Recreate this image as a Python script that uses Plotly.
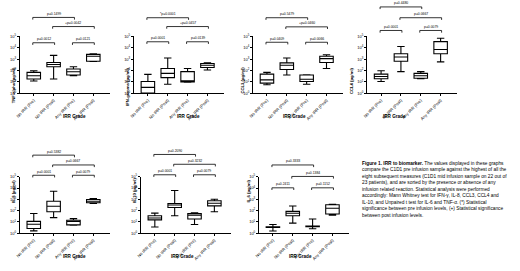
import plotly.graph_objects as go

# ---------------- data (pg/ml) ----------------
categories = ["No IRR (Pre)", "No IRR (Post)", "Any IRR (Pre)", "Any IRR (Post)"]
y_tick_vals = [1, 10, 100, 1000, 10000, 100000]
y_tick_text = ["10<sup>0</sup>", "10<sup>1</sup>", "10<sup>2</sup>", "10<sup>3</sup>", "10<sup>4</sup>", "10<sup>5</sup>"]

tnf_low = [12, 18, 35, 620]
tnf_q1 = [18, 214, 40, 660]
tnf_med = [35, 340, 79, 1780]
tnf_q3 = [69, 500, 135, 2630]
tnf_high = [95, 2140, 214, 2950]
tnf_p = ["p=0.1499", "+p=0.0042", "p=0.0012", "p=0.0121"]

ifn_low = [1.0, 6.3, 9.5, 110]
ifn_q1 = [1.07, 24, 10, 186]
ifn_med = [3.3, 56, 11.2, 295]
ifn_q3 = [11, 150, 80, 410]
ifn_high = [46, 1260, 150, 470]
ifn_p = ["*p=0.0001", "+p=0.0457", "p=0.0001", "p=0.0139"]

ccl3_low = [5.6, 41, 6.3, 150]
ccl3_q1 = [7.8, 123, 11, 500]
ccl3_med = [15, 295, 17, 1100]
ccl3_q3 = [48, 470, 41, 1780]
ccl3_high = [69, 1260, 43, 2450]
ccl3_p = ["p=0.5479", "+p=0.0460", "p=0.0409", "p=0.0066"]

ccl4_low = [11, 80, 19, 575]
ccl4_q1 = [19, 660, 21, 2950]
ccl4_med = [30, 1550, 35, 7080]
ccl4_q3 = [48, 2950, 56, 34700]
ccl4_high = [95, 12900, 80, 67600]
ccl4_p = ["p=0.4480", "p=0.0667", "p=0.0001", "p=0.0079"]

il8_low = [1.6, 24, 5.2, 425]
il8_q1 = [2.6, 80, 5.4, 490]
il8_med = [6.2, 245, 10.7, 680]
il8_q3 = [11, 680, 13.8, 955]
il8_high = [56, 5130, 19.5, 1175]
il8_p = ["p=0.5382", "p=0.0667", "p=0.0001", "p=0.0079"]

il10_low = [3.5, 35, 5.9, 80]
il10_q1 = [15, 190, 18, 263]
il10_med = [22, 316, 40, 447]
il10_q3 = [35, 425, 56, 740]
il10_high = [60, 6030, 63, 1000]
il10_p = ["p=0.2090", "p=0.3232", "p=0.0001", "p=0.0079"]

il6_low = [1.55, 7.8, 2.5, 40]
il6_q1 = [3.2, 35, 3.8, 50]
il6_med = [3.5, 58, 4.0, 160]
il6_q3 = [3.7, 85, 4.3, 325]
il6_high = [5.9, 257, 18, 370]
il6_p = ["p=0.3333", "p=0.1384", "p=0.2411", "p=0.1152"]

titles = ["TNF-alpha (pg/ml)", "IFN-gamma (pg/ml)", "CCL3 (pg/ml)", "CCL4 (pg/ml)",
          "IL-8 (pg/ml)", "IL-10 (pg/ml)", "IL-6 (pg/ml)"]

caption_lines = [
    "<b>Figure 1. IRR to biomarker.</b> The values displayed in these graphs",
    "compare the C1D1 pre infusion sample against the highest of all the",
    "eight subsequent measures (C1D1 mid infusion sample on 22 out of",
    "23 patients), and are sorted by the presence or absence of any",
    "infusion related reaction. Statistical analysis were performed",
    "accordingly: Mann Whitney test for IFN-γ, IL-8, CCL3, CCL4 and",
    "IL-10, and Unpaired t test for IL-6 and TNF-α. (*) Statistical",
    "significance between pre infusion levels, (+) Statistical significance",
    "between post infusion levels.",
]

panels_data = [
    (tnf_low, tnf_q1, tnf_med, tnf_q3, tnf_high, tnf_p),
    (ifn_low, ifn_q1, ifn_med, ifn_q3, ifn_high, ifn_p),
    (ccl3_low, ccl3_q1, ccl3_med, ccl3_q3, ccl3_high, ccl3_p),
    (ccl4_low, ccl4_q1, ccl4_med, ccl4_q3, ccl4_high, ccl4_p),
    (il8_low, il8_q1, il8_med, il8_q3, il8_high, il8_p),
    (il10_low, il10_q1, il10_med, il10_q3, il10_high, il10_p),
    (il6_low, il6_q1, il6_med, il6_q3, il6_high, il6_p),
]

# ---------------- layout geometry (pixels) ----------------
W, H = 520, 271
FONT = "Liberation Sans, Arial, sans-serif"
# (axis x, axis top y, axis bottom y, bracket ys [top, mid, low], x-title y)
geom = [
    (16, 34, 92, [14.7, 24, 40.5], 116),
    (131, 34, 92, [15, 24, 39.5], 116),
    (251, 34, 92, [15, 24.3, 40], 116),
    (366, 34, 92, [4, 15, 28], 116),
    (16, 177, 234.5, [155, 165, 175.5], 263),
    (138, 177, 234.5, [154.3, 164.3, 175], 263),
    (257, 177, 234.5, [165, 176.7, 188.3], 263),
]
XR = [-0.7, 3.85]
PX_PER_UNIT = 20.0


def px(x):
    return x / W


def py(y):
    return 1 - y / H


fig = go.Figure()
shapes, annotations = [], []
layout = dict(
    width=W, height=H, margin=dict(l=0, r=0, t=0, b=0),
    paper_bgcolor="white", plot_bgcolor="white", showlegend=False,
    font=dict(family=FONT, color="black", size=4),
)

for i, ((lo, q1, md, q3, hi, pv), (ax, top, bot, bys, xty)) in enumerate(zip(panels_data, geom)):
    n = "" if i == 0 else str(i + 1)
    xa, ya = "x" + n, "y" + n
    width_px = (XR[1] - XR[0]) * PX_PER_UNIT
    layout["xaxis" + n] = dict(
        domain=[px(ax), px(ax + width_px)], range=XR, anchor=ya,
        showline=True, linecolor="black", linewidth=1.1, showgrid=False, zeroline=False,
        ticks="outside", ticklen=2, tickwidth=0.9, tickcolor="black",
        tickvals=[0, 1, 2, 3], ticktext=categories, tickangle=-45,
        tickfont=dict(size=4.2, family=FONT), fixedrange=True,
    )
    layout["yaxis" + n] = dict(
        domain=[py(bot), py(top)], type="log", range=[0, 5], anchor=xa,
        showline=True, linecolor="black", linewidth=1.1, showgrid=False, zeroline=False,
        ticks="outside", ticklen=2, tickwidth=0.9, tickcolor="black",
        tickvals=y_tick_vals, ticktext=y_tick_text,
        tickfont=dict(size=4, family=FONT), fixedrange=True,
    )
    fig.add_trace(go.Box(
        x=[0, 1, 2, 3], q1=q1, median=md, q3=q3, lowerfence=lo, upperfence=hi,
        xaxis=xa, yaxis=ya, fillcolor="white", line=dict(color="black", width=1.1),
        width=0.68, whiskerwidth=0.55, boxpoints=False, hoverinfo="skip",
    ))
    # brackets: top (0-2), mid (1-3), low (0-1), low (2-3)
    pairs = [(0, 2, bys[0]), (1, 3, bys[1]), (0, 1, bys[2]), (2, 3, bys[2])]
    for (a, b, yb), label in zip(pairs, pv):
        y1 = py(yb)
        y0 = py(yb + 2.2)
        shapes.append(dict(
            type="path", xref=xa, yref="paper",
            path=f"M {a - 0.05},{y0} L {a - 0.05},{y1} L {b + 0.05},{y1} L {b + 0.05},{y0}",
            line=dict(color="black", width=0.8),
        ))
        annotations.append(dict(
            x=(a + b) / 2, y=y1, xref=xa, yref="paper", text=label,
            showarrow=False, yanchor="bottom", yshift=-0.5,
            font=dict(size=3.4, family=FONT),
        ))
    # y title
    annotations.append(dict(
        x=px(ax - 11), y=py((top + bot) / 2), xref="paper", yref="paper",
        text="<b>" + titles[i] + "</b>", textangle=-90, showarrow=False,
        font=dict(size=4.2, family=FONT),
    ))
    # x title
    annotations.append(dict(
        x=px(ax + width_px / 2 - 4), y=py(xty), xref="paper", yref="paper",
        text="<b>IRR Grade</b>", showarrow=False, font=dict(size=4.6, family=FONT),
    ))

for k, line in enumerate(caption_lines):
    annotations.append(dict(
        x=px(359), y=py(163.5 + k * 6.6), xref="paper", yref="paper",
        xanchor="left", yanchor="middle", align="left", text=line,
        showarrow=False, font=dict(size=4.8, family=FONT),
    ))

layout["shapes"] = shapes
layout["annotations"] = annotations
fig.update_layout(**layout)
fig.write_html("out.html", config={"displayModeBar": False},
               post_script="document.body.style.margin='0';document.body.style.padding='0';")
